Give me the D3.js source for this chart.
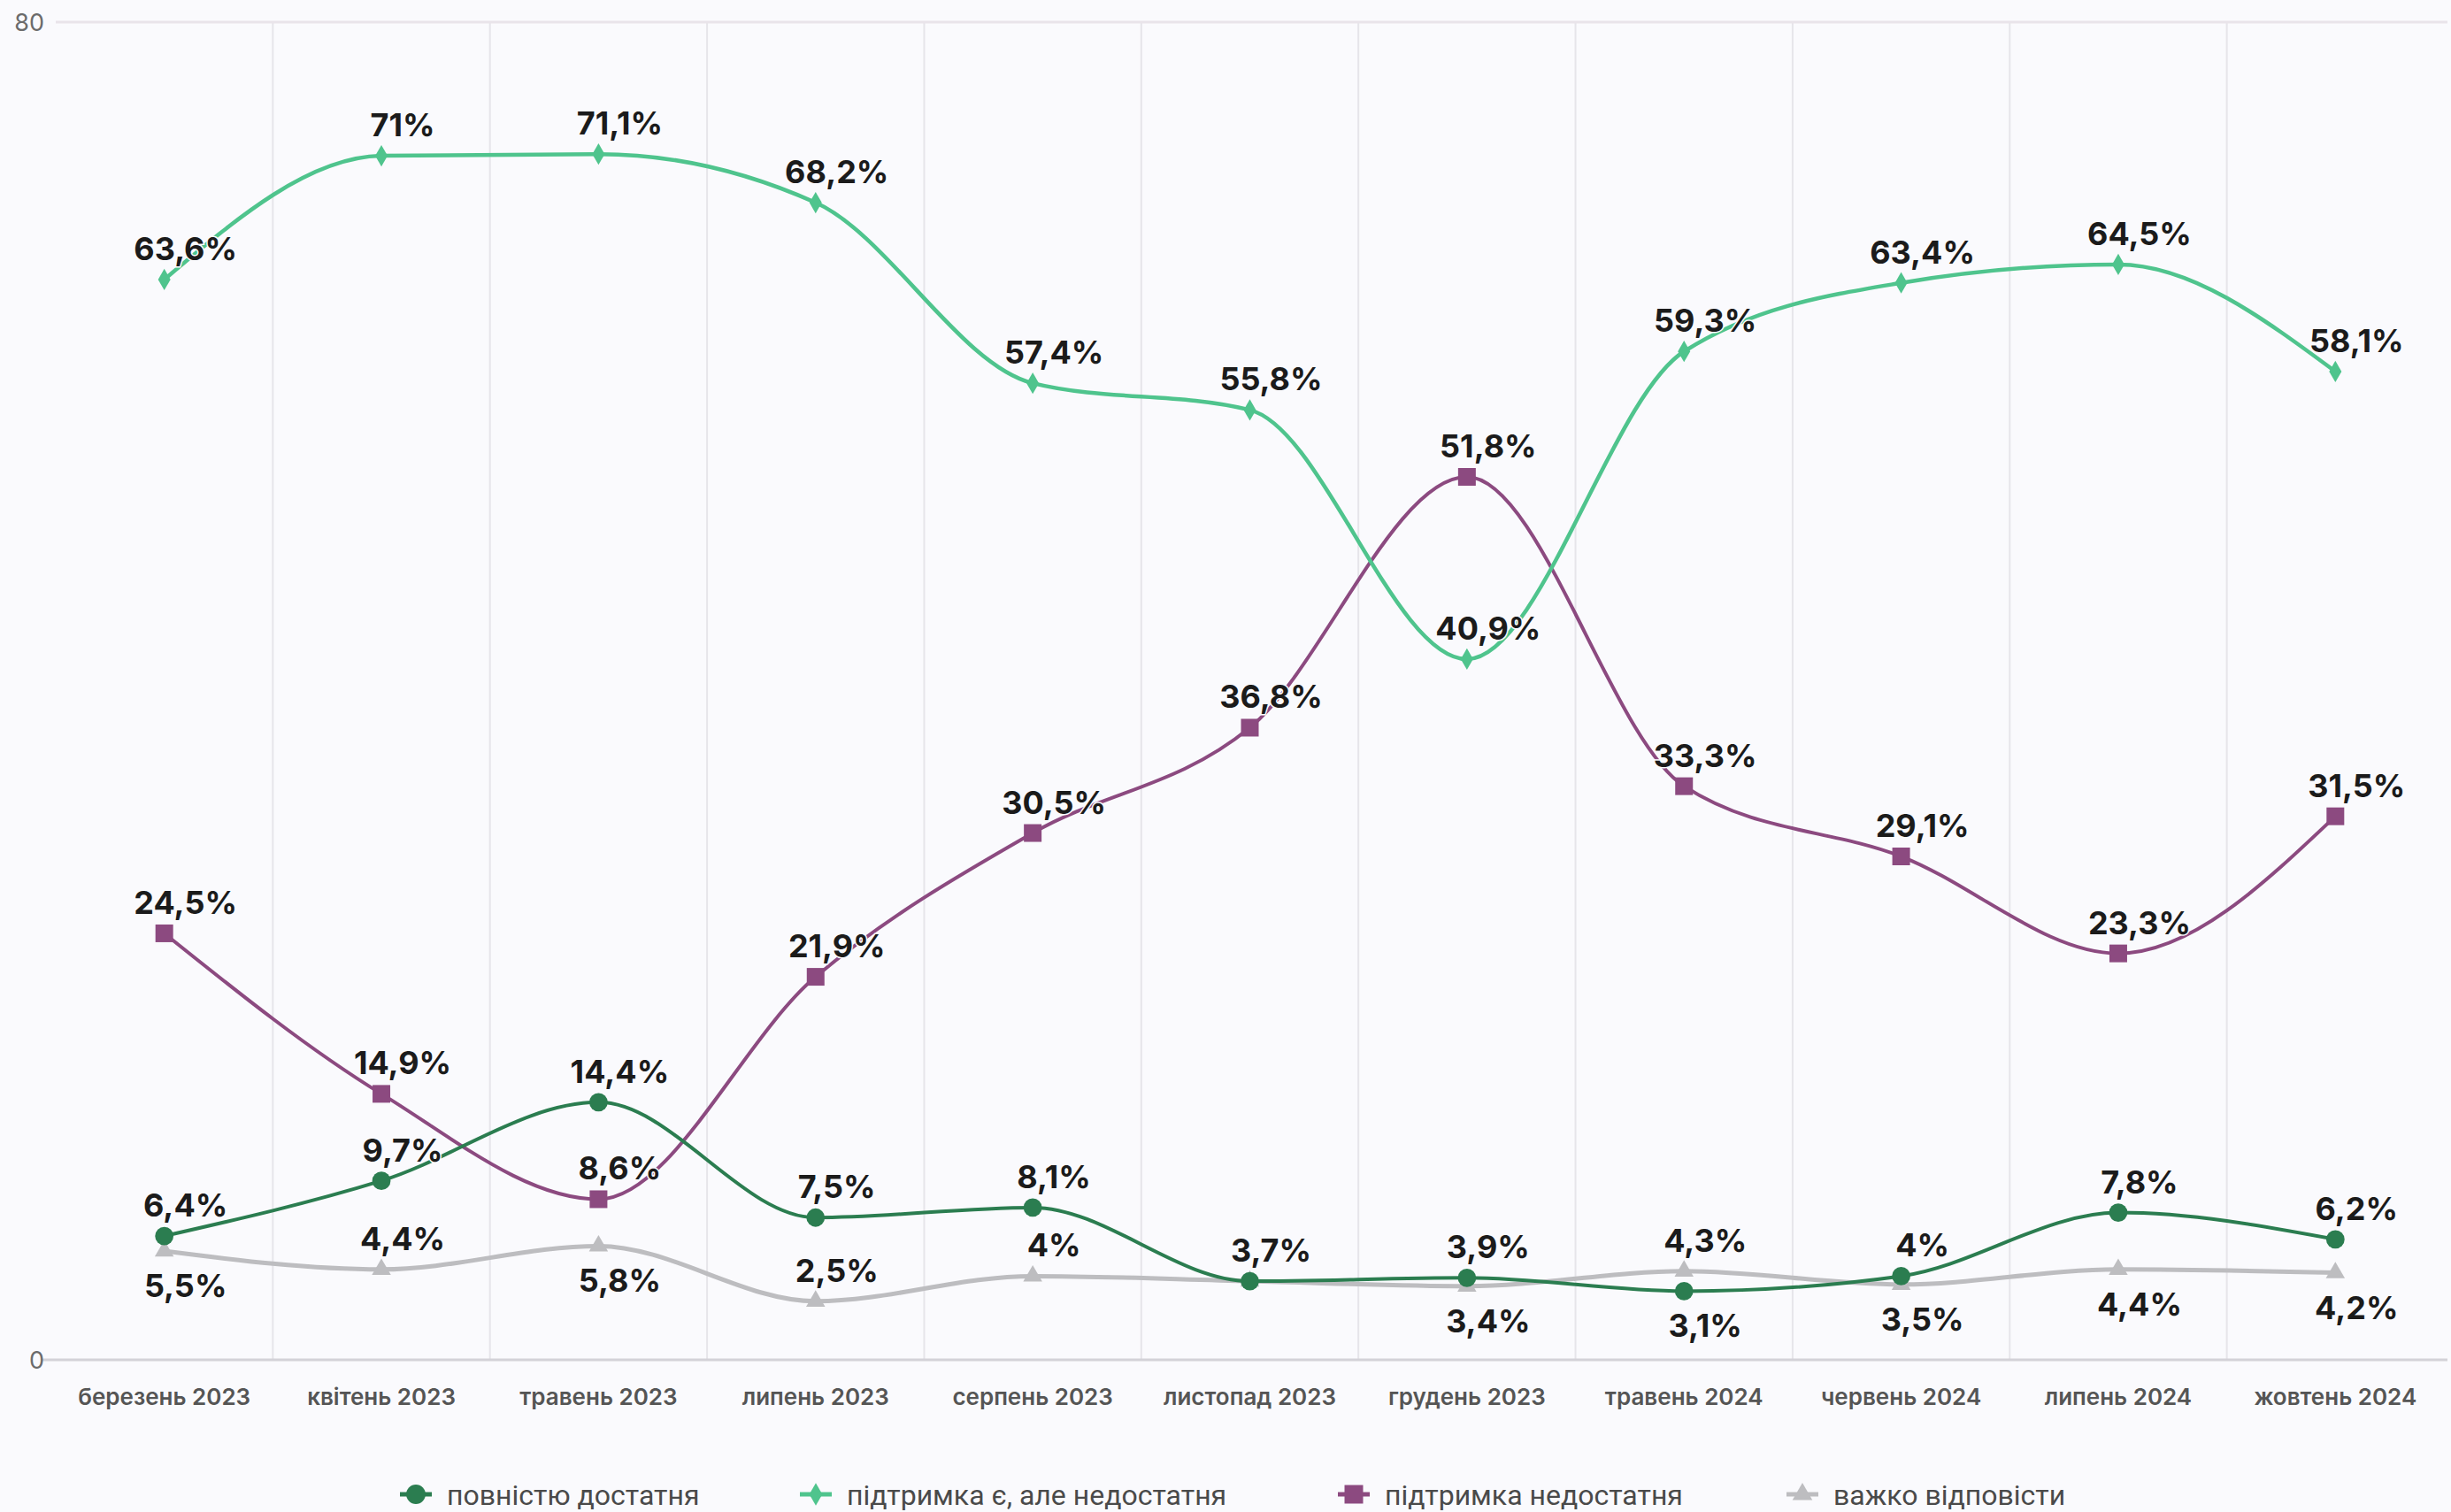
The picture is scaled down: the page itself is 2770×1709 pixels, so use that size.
<!DOCTYPE html>
<html>
<head>
<meta charset="utf-8">
<script src="https://cdn.jsdelivr.net/npm/d3@7"></script>
<style>
  html, body { margin: 0; padding: 0; background: #fafafd; }
  svg { display: block; }
</style>
</head>
<body>
<svg id="chart" width="2770" height="1709"></svg>
<script>
// ---- data ----
const categories = ["березень 2023", "квітень 2023", "травень 2023", "липень 2023", "серпень 2023",
  "листопад 2023", "грудень 2023", "травень 2024", "червень 2024", "липень 2024", "жовтень 2024"];
const seriesNames = ["повністю достатня", "підтримка є, але недостатня", "підтримка недостатня", "важко відповісти"];
const fullyEnough = [6.4, 9.7, 14.4, 7.5, 8.1, 3.7, 3.9, 3.1, 4, 7.8, 6.2];
const existsNotEnough = [63.6, 71, 71.1, 68.2, 57.4, 55.8, 40.9, 59.3, 63.4, 64.5, 58.1];
const notEnough = [24.5, 14.9, 8.6, 21.9, 30.5, 36.8, 51.8, 33.3, 29.1, 23.3, 31.5];
const hardToSay = [5.5, 4.4, 5.8, 2.5, 4, 3.7, 3.4, 4.3, 3.5, 4.4, 4.2];
const yTicks = [0, 80];
// label side per point: 1 = above, -1 = below
const fullyEnoughSide = [1, 1, 1, 1, 1, 1, 1, -1, 1, 1, 1];
const existsNotEnoughSide = [1, 1, 1, 1, 1, 1, 1, 1, 1, 1, 1];
const notEnoughSide = [1, 1, 1, 1, 1, 1, 1, 1, 1, 1, 1];
const hardToSaySide = [-1, 1, -1, 1, 1, 1, -1, 1, -1, -1, -1];

const series = [
  { name: seriesNames[0], values: fullyEnough, side: fullyEnoughSide, color: "#2b7d50", symbol: "circle", width: 4 },
  { name: seriesNames[1], values: existsNotEnough, side: existsNotEnoughSide, color: "#4fc48d", symbol: "diamond", width: 4.5 },
  { name: seriesNames[2], values: notEnough, side: notEnoughSide, color: "#8c4a80", symbol: "square", width: 4 },
  { name: seriesNames[3], values: hardToSay, side: hardToSaySide, color: "#bdbdc0", symbol: "triangle", width: 5 }
];
// draw order: grey first so colored lines sit on top
const drawOrder = [3, 2, 1, 0];

// ---- layout ----
const svg = d3.select("#chart");
const W = 2770, H = 1709;
const x = d3.scaleBand().domain(categories).range([63, 2762]).padding(0);
const y = d3.scaleLinear().domain([0, 80]).range([1537, 25]);
const dataShift = -19;

// vertical gridlines between categories
svg.append("g").selectAll("line")
  .data(categories.slice(1))
  .join("line")
  .attr("x1", d => x(d)).attr("x2", d => x(d))
  .attr("y1", y(80)).attr("y2", y(0))
  .attr("stroke", "#e6e5ea").attr("stroke-width", 2);

// horizontal lines at ticks
svg.append("line")
  .attr("x1", 63).attr("x2", 2766).attr("y1", y(80)).attr("y2", y(80))
  .attr("stroke", "#e9e4ea").attr("stroke-width", 3);
svg.append("line")
  .attr("x1", 47).attr("x2", 2766).attr("y1", y(0)).attr("y2", y(0))
  .attr("stroke", "#d3d2d8").attr("stroke-width", 3);

// y tick labels
svg.append("g").selectAll("text")
  .data(yTicks)
  .join("text")
  .attr("x", 50).attr("y", d => y(d))
  .attr("dy", "0.36em")
  .attr("text-anchor", "end")
  .attr("font-family", "Inter, 'Noto Sans', sans-serif")
  .attr("font-size", 27)
  .attr("fill", "#6b6b6b")
  .text(d => d);

// x axis labels
svg.append("g").selectAll("text")
  .data(categories)
  .join("text")
  .attr("x", d => x(d) + x.bandwidth() / 2)
  .attr("y", 1588)
  .attr("text-anchor", "middle")
  .attr("font-family", "Inter, 'Noto Sans', sans-serif")
  .attr("font-weight", 600)
  .attr("font-size", 26)
  .attr("fill", "#555")
  .text(d => d);

const symbolTypes = {
  circle: d3.symbolCircle,
  diamond: d3.symbolDiamond,
  square: d3.symbolSquare,
  triangle: d3.symbolTriangle
};
const symbolSizes = { circle: 340, diamond: 170, square: 400, triangle: 200 };

const line = d3.line()
  .x((d, i) => x(categories[i]) + x.bandwidth() / 2)
  .y(d => y(d))
  .curve(d3.curveMonotoneX);

const dataG = svg.append("g").attr("transform", `translate(0,${dataShift})`);

drawOrder.forEach(si => {
  const s = series[si];
  dataG.append("path")
    .attr("d", line(s.values))
    .attr("fill", "none")
    .attr("stroke", s.color)
    .attr("stroke-width", s.width)
    .attr("stroke-linejoin", "round");
});
drawOrder.forEach(si => {
  const s = series[si];
  dataG.append("g").selectAll("path")
    .data(s.values)
    .join("path")
    .attr("transform", (d, i) => `translate(${x(categories[i]) + x.bandwidth() / 2},${y(d)})`)
    .attr("d", d3.symbol().type(symbolTypes[s.symbol]).size(symbolSizes[s.symbol]))
    .attr("fill", s.color);
});

const fmt = v => String(v).replace(".", ",") + "%";
series.forEach(s => {
  dataG.append("g").selectAll("text")
    .data(s.values)
    .join("text")
    .attr("x", (d, i) => x(categories[i]) + x.bandwidth() / 2 + 24)
    .attr("y", (d, i) => y(d) + (s.side[i] > 0 ? -22 : 52))
    .attr("text-anchor", "middle")
    .attr("font-family", "Inter, 'Noto Sans', sans-serif")
    .attr("font-weight", 700)
    .attr("font-size", 36)
    .attr("fill", "#1b1b1b")
    .attr("stroke", "#fafafd")
    .attr("stroke-width", 3)
    .attr("paint-order", "stroke")
    .text(d => fmt(d));
});

// legend
const legendMarkerX = [470, 922, 1530, 2037];
const legendY = 1689;
const lg = svg.append("g");
series.forEach((s, i) => {
  const g = lg.append("g").attr("transform", `translate(${legendMarkerX[i]},${legendY})`);
  g.append("line").attr("x1", -18).attr("x2", 18).attr("y1", 0).attr("y2", 0)
    .attr("stroke", s.color).attr("stroke-width", 5);
  g.append("path")
    .attr("d", d3.symbol().type(symbolTypes[s.symbol]).size(symbolSizes[s.symbol] * 1.1))
    .attr("fill", s.color);
  g.append("text")
    .attr("x", 35).attr("y", 0).attr("dy", "0.36em")
    .attr("font-family", "Roboto, 'Noto Sans', sans-serif")
    .attr("font-size", 32)
    .attr("fill", "#4a4a4a")
    .text(s.name);
});
</script>
</body>
</html>
